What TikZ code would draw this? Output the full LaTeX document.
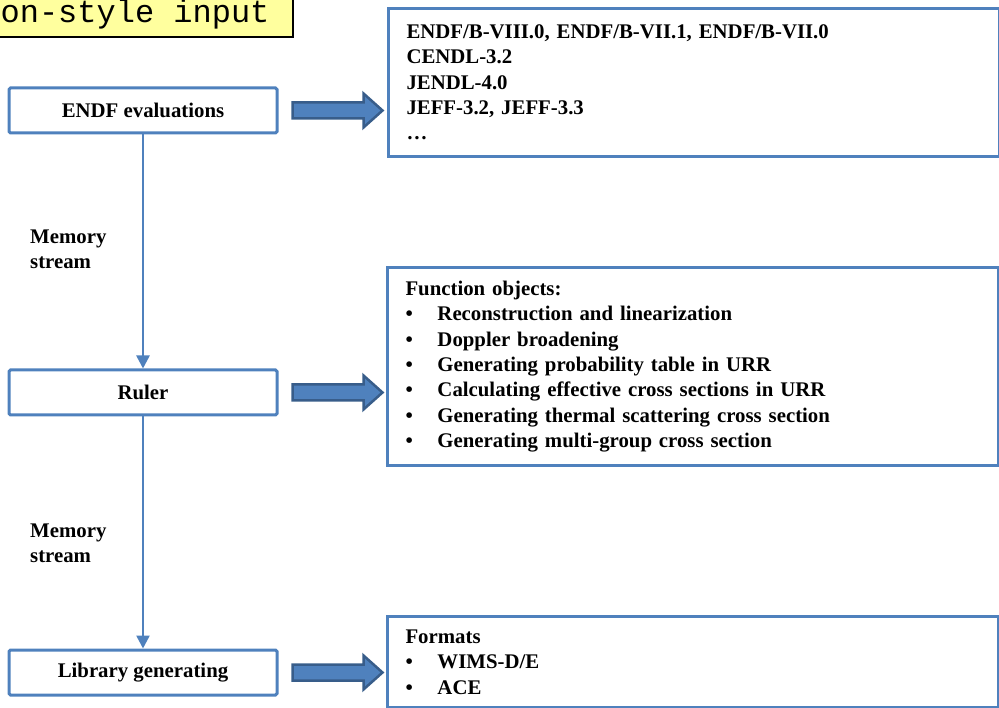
\documentclass[tikz,border=0pt]{standalone}
\usepackage{fontspec}
\setmainfont{Liberation Serif}
\newfontfamily\monofont{Liberation Mono}
\usetikzlibrary{arrows.meta}
\definecolor{boxblue}{HTML}{4F81BD}
\definecolor{darkblue}{HTML}{385D8A}
\definecolor{noteyellow}{HTML}{FFFF9E}
\newcommand{\itm}[1]{\makebox[32pt][l]{\textbullet}#1}

\begin{document}
\begin{tikzpicture}[x=1pt, y=-1pt,
 txt/.style={font=\fontsize{20.8}{25.3}\selectfont\bfseries},
 stage/.style={txt, draw=boxblue, line width=3pt, rounded corners=1.5pt,
   minimum width=268pt, minimum height=45pt, inner sep=0pt},
 info/.style={txt, draw=boxblue, line width=3pt, anchor=north west,
   align=left, text width=575pt, inner xsep=18pt, inner ysep=0pt,
   minimum width=611pt},
 flow/.style={draw=boxblue, line width=2.5pt,
   -{Triangle[width=13pt,length=13pt]}},
 fat/.style={draw=darkblue, fill=boxblue, line width=2.5pt, line join=miter}
]
\useasboundingbox (0,0) rectangle (999,708);
\clip (0,0) rectangle (999,708);

% input note, cut by the frame
\draw[fill=noteyellow, line width=1.5pt] (-20,-10) rectangle (293,37);
\node[font=\monofont\fontsize{32}{32}\selectfont, anchor=base east] (note) at (273,23) {on-style input};

% stages
\node[stage] (endf) at (143,110.5) {ENDF evaluations};
\node[stage] (ruler) at (143,392.5) {Ruler};
\node[stage] (lib) at (143,672.5) {Library generating};

\draw[flow] (endf) -- (ruler);
\draw[flow] (ruler) -- (lib);
\foreach \y in {249.5,543.5}
  \node[txt, anchor=west, align=left, inner xsep=0pt] at (30,\y) {Memory\\stream};

% details
\node[info, minimum height=148pt] (evals) at (387,7)
  {ENDF/B-VIII.0, ENDF/B-VII.1, ENDF/B-VII.0\\CENDL-3.2\\JENDL-4.0\\JEFF-3.2, JEFF-3.3\\\dots};
\node[info, minimum height=198pt] (funcs) at (386,266)
  {Function objects:\\
   \itm{Reconstruction and linearization}\\
   \itm{Doppler broadening}\\
   \itm{Generating probability table in URR}\\
   \itm{Calculating effective cross sections in URR}\\
   \itm{Generating thermal scattering cross section}\\
   \itm{Generating multi-group cross section}};
\node[info, minimum height=91pt] (fmts) at (386,615)
  {Formats\\\itm{WIMS-D/E}\\\itm{ACE}};

% block arrows
\foreach \s in {endf,ruler,lib}
  \draw[fat] (\s.east) ++(14,-8) -- ++(71,0) -- ++(0,-9) -- ++(19,17)
    -- ++(-19,17) -- ++(0,-9) -- ++(-71,0) -- cycle;

\end{tikzpicture}
\end{document}
